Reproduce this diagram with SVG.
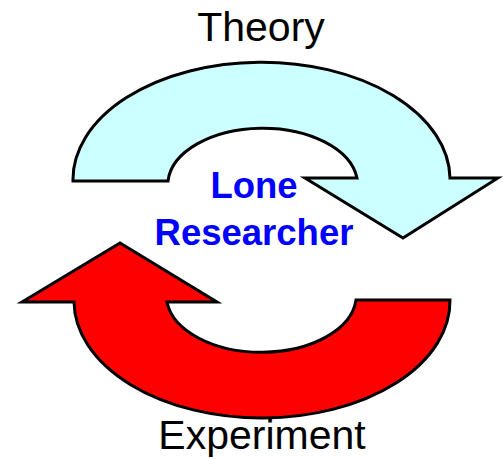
<svg xmlns="http://www.w3.org/2000/svg" width="503" height="459" viewBox="0 0 503 459">
<style>
.arrow{stroke:#000;stroke-width:3;stroke-linejoin:miter}
.lbl{font-family:"Liberation Sans",Arial,sans-serif;fill:#000;text-anchor:middle}
.ctr{font-family:"Liberation Sans",Arial,sans-serif;font-size:36.5px;font-weight:bold;fill:#0000FF;text-anchor:middle}
</style>
<rect width="503" height="459" fill="#fff"/>
<g id="connectors">
<path id="theory-arrow" class="arrow" fill="#CCFFFF" d="M73,181 A188,117 0 0 1 450,178 L498,178 L403,238 L305,178 L357,178 A95,57 0 0 0 168,181 Z"/>
<path id="experiment-arrow" class="arrow" fill="#FF0000" d="M22,302 L120,243 L217,302 L167,302 A95,57 0 0 0 356,300 L450,300 A188,117 0 0 1 74,302 Z"/>
</g>
<g id="theory"><text class="lbl" x="261" y="41" font-size="41">Theory</text></g>
<g id="experiment"><text class="lbl" x="262" y="449" font-size="41">Experiment</text></g>
<g id="researcher"><text class="ctr" x="254" y="198">Lone</text><text class="ctr" x="254" y="245">Researcher</text></g>
</svg>
